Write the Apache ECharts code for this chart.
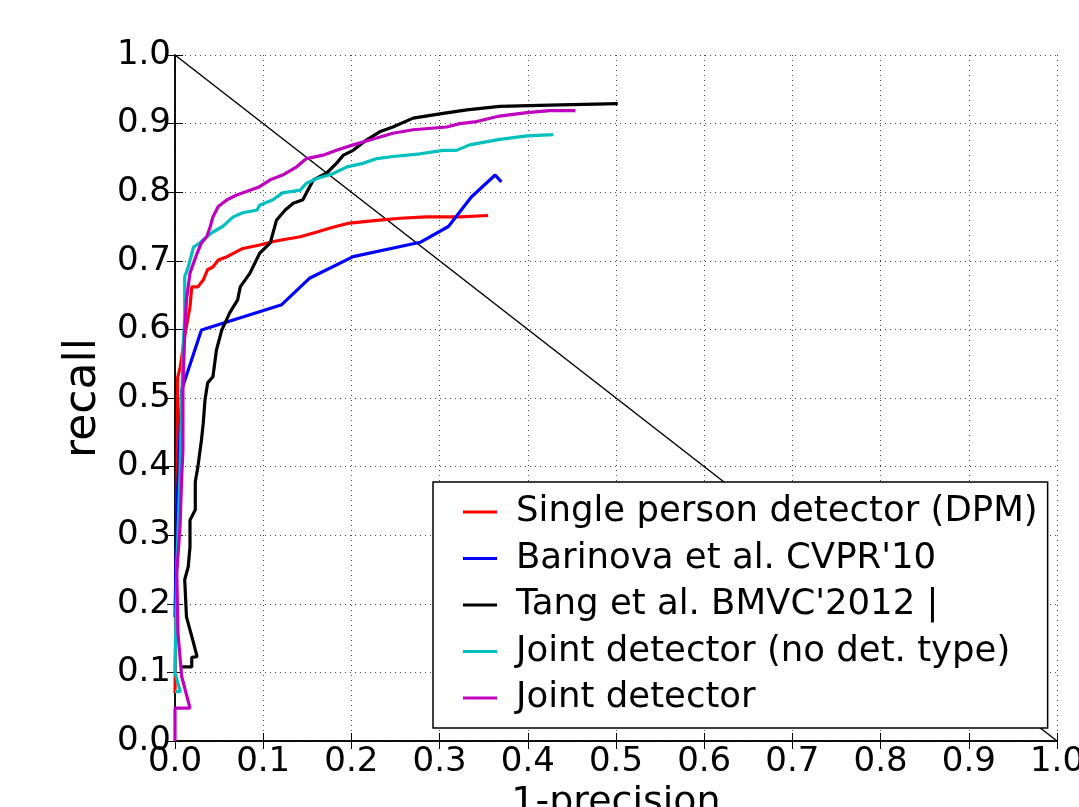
<!DOCTYPE html>
<html lang="en">
<head>
<meta charset="UTF-8">
<title>recall vs 1-precision</title>
<script src="https://cdn.jsdelivr.net/npm/echarts@6/dist/echarts.min.js"></script>
<style>
  html, body { margin: 0; padding: 0; background: #fff; }
  #main { width: 1079px; height: 807px; }
</style>
</head>
<body>
<div id="main"></div>
<script>
// points, [1-precision, recall]
var dpm = [[0.0, 0.07], [0.002, 0.30], [0.003, 0.53], [0.006, 0.545], [0.011, 0.59], [0.017, 0.633],
  [0.019, 0.662], [0.026, 0.662], [0.032, 0.672], [0.037, 0.687], [0.043, 0.691], [0.049, 0.701],
  [0.059, 0.706], [0.077, 0.718], [0.096, 0.723], [0.108, 0.727], [0.119, 0.730], [0.142, 0.735],
  [0.161, 0.742], [0.179, 0.749], [0.198, 0.755], [0.229, 0.759], [0.255, 0.762], [0.285, 0.764],
  [0.323, 0.764], [0.355, 0.766]];

var barinova = [[0.0, 0.18], [0.002, 0.33], [0.0076, 0.512], [0.030, 0.599], [0.121, 0.636],
  [0.153, 0.675], [0.202, 0.706], [0.278, 0.727], [0.31, 0.75], [0.336, 0.793], [0.363, 0.825],
  [0.370, 0.815]];

var tang = [[0.0076, 0.108], [0.019, 0.108], [0.019, 0.122], [0.025, 0.123], [0.021, 0.143],
  [0.013, 0.181], [0.011, 0.235], [0.015, 0.254], [0.017, 0.283], [0.017, 0.322], [0.023, 0.337],
  [0.023, 0.378], [0.026, 0.40], [0.030, 0.439], [0.032, 0.463], [0.034, 0.497], [0.037, 0.522],
  [0.043, 0.531], [0.047, 0.57], [0.053, 0.599], [0.062, 0.624], [0.071, 0.643], [0.074, 0.662],
  [0.085, 0.682], [0.096, 0.711], [0.108, 0.726], [0.115, 0.759], [0.125, 0.774], [0.134, 0.784],
  [0.145, 0.789], [0.149, 0.799], [0.157, 0.818], [0.172, 0.828], [0.183, 0.842], [0.191, 0.854],
  [0.202, 0.861], [0.217, 0.876], [0.232, 0.888], [0.247, 0.895], [0.270, 0.908], [0.304, 0.915],
  [0.331, 0.92], [0.368, 0.925], [0.425, 0.927], [0.502, 0.929]];

var jointNoType = [[0.0, 0.072], [0.006, 0.072], [0.0, 0.10], [0.002, 0.254], [0.0034, 0.303],
  [0.0057, 0.39], [0.0076, 0.497], [0.009, 0.57], [0.011, 0.618], [0.011, 0.677], [0.015, 0.691],
  [0.021, 0.72], [0.028, 0.726], [0.036, 0.735], [0.043, 0.742], [0.054, 0.75], [0.066, 0.764],
  [0.077, 0.77], [0.093, 0.774], [0.096, 0.781], [0.111, 0.789], [0.122, 0.799], [0.142, 0.803],
  [0.149, 0.813], [0.161, 0.820], [0.179, 0.827], [0.195, 0.837], [0.213, 0.842], [0.229, 0.849],
  [0.247, 0.852], [0.278, 0.856], [0.304, 0.861], [0.319, 0.861], [0.334, 0.869], [0.368, 0.877],
  [0.399, 0.882], [0.429, 0.884]];

var joint = [[0.0, 0.0], [0.0, 0.048], [0.017, 0.048], [0.0076, 0.094], [0.0034, 0.157],
  [0.002, 0.245], [0.0057, 0.312], [0.0076, 0.385], [0.009, 0.424], [0.009, 0.512], [0.011, 0.595],
  [0.013, 0.643], [0.017, 0.682], [0.025, 0.711], [0.030, 0.726], [0.036, 0.735], [0.040, 0.75],
  [0.043, 0.764], [0.049, 0.779], [0.059, 0.789], [0.070, 0.796], [0.085, 0.803], [0.096, 0.808],
  [0.108, 0.818], [0.122, 0.825], [0.138, 0.837], [0.149, 0.849], [0.168, 0.854], [0.183, 0.861],
  [0.202, 0.869], [0.221, 0.876], [0.247, 0.886], [0.270, 0.891], [0.308, 0.895], [0.323, 0.900],
  [0.342, 0.903], [0.368, 0.911], [0.399, 0.916], [0.425, 0.919], [0.454, 0.919]];

var diagonal = [[0, 1], [1, 0]];

var names = ['Single person detector (DPM)', "Barinova et al. CVPR'10", "Tang et al. BMVC'2012 |",
  'Joint detector (no det. type)', 'Joint detector'];
var colors = ['#ff0000', '#0000ff', '#000000', '#00bfbf', '#bf00bf'];
var curves = [dpm, barinova, tang, jointNoType, joint];

var FONT = 'DejaVu Sans';

var myChart = echarts.init(document.getElementById('main'));

var grid = { left: 175, top: 55, right: 22, bottom: 66, outerBoundsMode: 'none', containLabel: false };
var dotted = { show: true, lineStyle: { color: '#444', width: 1, type: [1, 4] } };
var frame = { show: true, lineStyle: { color: '#000', width: 1.5 } };
var tickIn = { show: true, inside: true, length: 8, lineStyle: { color: '#000', width: 1 } };

var series = [{
  type: 'line', data: diagonal, symbol: 'none', silent: true,
  lineStyle: { color: '#000', width: 1.5 }
}];
curves.forEach(function (c, i) {
  series.push({
    name: names[i], type: 'line', data: c, symbol: 'none',
    lineStyle: { color: colors[i], width: 3.2 }, itemStyle: { color: colors[i] }
  });
});

myChart.setOption({
  animation: false,
  grid: grid,
  legend: {
    data: names,
    orient: 'vertical',
    left: 433, top: 482,
    padding: [10, 10, 10, 30],
    itemWidth: 34, itemHeight: 3, itemGap: 6.5,
    icon: 'rect',
    backgroundColor: '#fff',
    borderColor: '#000', borderWidth: 1.5, borderRadius: 0,
    textStyle: { fontFamily: FONT, fontSize: 35.5, color: '#000', lineHeight: 40, padding: [0, 0, 0, 14] }
  },
  xAxis: [{
    type: 'value', min: 0, max: 1, interval: 0.1,
    name: '1-precision', nameLocation: 'middle', nameGap: 40,
    nameTextStyle: { fontFamily: FONT, fontSize: 38, color: '#000' },
    axisLine: frame, axisTick: tickIn, splitLine: dotted,
    axisLabel: { fontFamily: FONT, fontSize: 34, color: '#000', margin: 4,
      formatter: function (v) { return v.toFixed(1); } }
  }, {
    type: 'value', min: 0, max: 1, interval: 0.1, position: 'top',
    axisLine: frame, axisTick: tickIn, splitLine: { show: false }, axisLabel: { show: false }
  }],
  yAxis: [{
    type: 'value', min: 0, max: 1, interval: 0.1,
    name: 'recall', nameLocation: 'middle', nameGap: 56,
    nameTextStyle: { fontFamily: FONT, fontSize: 44, color: '#000' },
    axisLine: frame, axisTick: tickIn, splitLine: dotted,
    axisLabel: { fontFamily: FONT, fontSize: 34, color: '#000', margin: 4,
      formatter: function (v) { return v.toFixed(1); } }
  }, {
    type: 'value', min: 0, max: 1, interval: 0.1, position: 'right',
    axisLine: frame, axisTick: tickIn, splitLine: { show: false }, axisLabel: { show: false }
  }],
  series: series
});
</script>
</body>
</html>
